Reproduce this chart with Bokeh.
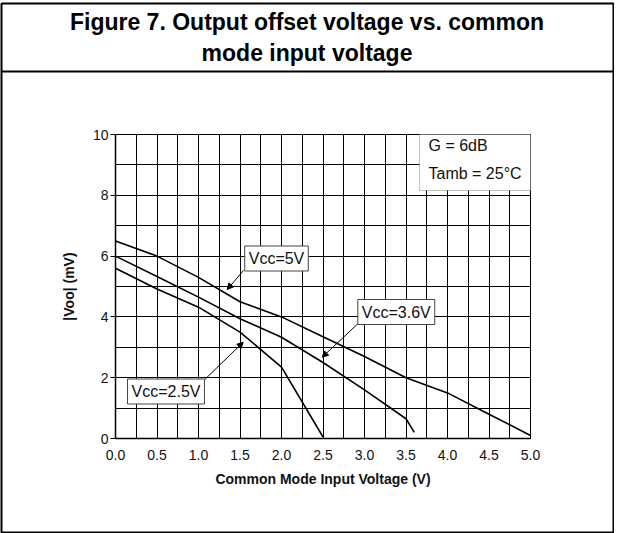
from bokeh.plotting import figure
from bokeh.models import (Range1d, SingleIntervalTicker, NumeralTickFormatter, Label,
                          Arrow, NormalHead, BoxAnnotation, Span, LinearAxis)
from bokeh.embed import file_html
from bokeh.resources import INLINE

# ---- data ----
x_5v = [0.0, 0.5, 1.0, 1.5, 2.0, 2.5, 3.0, 3.5, 4.0, 4.5, 5.0]
y_5v = [6.5, 6.0, 5.3, 4.5, 4.0, 3.35, 2.7, 2.0, 1.5, 0.8, 0.1]

x_36v = [0.0, 0.5, 1.0, 1.5, 2.0, 2.5, 3.0, 3.5, 3.6]
y_36v = [6.0, 5.33, 4.65, 3.94, 3.33, 2.5, 1.6, 0.65, 0.2]

x_25v = [0.0, 0.5, 1.0, 1.5, 2.0, 2.5]
y_25v = [5.6, 4.92, 4.32, 3.5, 2.35, 0.05]

x_limits = (0.0, 5.0)
y_limits = (0.0, 10.0)

title_lines = ["Figure 7. Output offset voltage vs. common", "mode input voltage"]
x_label = "Common Mode Input Voltage (V)"
y_label = "|Voo| (mV)"
cond_lines = ["G = 6dB", "Tamb = 25°C"]

FONT = "Liberation Sans"

# ---- layout (pixels on the canvas) ----
W, H = 614, 533
FL, FR, FT, FB = 1, 613, 3, 532          # outer box = bokeh frame
PX0, PX1, PY10, PY0 = 115, 530, 134, 438  # plot area
X0, X1 = x_limits
Y0, Y1 = y_limits
sx = (PX1 - PX0) / (X1 - X0)
sy = (PY0 - PY10) / (Y1 - Y0)

def dx(px):
    return X0 + (px - PX0) / sx

def dy(py):
    return Y0 + (PY0 - py) / sy

p = figure(width=W, height=H, output_backend="svg", toolbar_location=None,
           x_range=Range1d(dx(FL), dx(FR)), y_range=Range1d(dy(FB), dy(FT)),
           x_axis_type=None, y_axis_type=None,
           min_border_left=FL, min_border_right=W - FR,
           min_border_top=FT, min_border_bottom=H - FB)
p.background_fill_color = "white"
p.border_fill_color = "white"
p.outline_line_color = "black"
p.outline_line_width = 2

# axes fixed at the plot-area origin; their long inward ticks form the grid
xaxis = LinearAxis(fixed_location=Y0, bounds=x_limits,
                   ticker=SingleIntervalTicker(interval=0.5, num_minor_ticks=2),
                   formatter=NumeralTickFormatter(format="0.0"))
yaxis = LinearAxis(fixed_location=X0, bounds=y_limits,
                   ticker=SingleIntervalTicker(interval=2, num_minor_ticks=2))
plot_w = sx * (X1 - X0)
plot_h = sy * (Y1 - Y0)
for ax in (xaxis, yaxis):
    ax.axis_line_color = "black"
    ax.axis_line_width = 1.5
    ax.major_tick_line_color = "black"
    ax.major_tick_line_width = 1
    ax.minor_tick_line_color = "black"
    ax.minor_tick_line_width = 1
    ax.minor_tick_out = 0
    ax.major_label_text_font = FONT
    ax.major_label_text_font_size = "14px"
    ax.major_label_text_color = "#111111"
    ax.axis_label_text_font = FONT
    ax.axis_label_text_font_size = "14px"
    ax.axis_label_text_font_style = "bold"
    ax.axis_label_text_color = "#111111"
xaxis.major_tick_in = int(round(plot_h))
xaxis.minor_tick_in = int(round(plot_h))
xaxis.major_tick_out = 0
xaxis.major_label_standoff = 11
xaxis.axis_label = x_label
xaxis.axis_label_standoff = 8
yaxis.major_tick_in = int(round(plot_w))
yaxis.minor_tick_in = int(round(plot_w))
yaxis.major_tick_out = 5
yaxis.major_label_standoff = 2
yaxis.axis_label = y_label
yaxis.axis_label_standoff = 13
p.add_layout(xaxis, "below")
p.add_layout(yaxis, "left")

# curves
for xs, ys in ((x_5v, y_5v), (x_36v, y_36v), (x_25v, y_25v)):
    p.line(xs, ys, line_color="black", line_width=1.6)

# conditions box
p.add_layout(BoxAnnotation(left=dx(419), right=X1, bottom=dy(190), top=Y1,
                           fill_color="white", fill_alpha=1.0,
                           line_color="#333333", line_width=1))
for i, t in enumerate(cond_lines):
    p.add_layout(Label(x=dx(428), y=dy(145 + 28 * i), text=t, text_align="left",
                       text_baseline="middle", text_font=FONT,
                       text_font_size="16px", text_color="#111111"))

# curve labels with arrows
callouts = [
    ("Vcc=5V", (276, 258), (243, 270), (226.7, 289)),
    ("Vcc=2.5V", (165.5, 391), (204.3, 379), (242.7, 341.7)),
    ("Vcc=3.6V", (395.8, 311.5), (357.3, 323.3), (321.7, 356.7)),
]
for text, c, tail, head in callouts:
    p.add_layout(Arrow(x_start=dx(tail[0]), y_start=dy(tail[1]),
                       x_end=dx(head[0]), y_end=dy(head[1]),
                       line_color="black", line_width=1,
                       end=NormalHead(size=6, fill_color="black", line_color="black")))
for text, c, tail, head in callouts:
    p.add_layout(Label(x=dx(c[0]), y=dy(c[1]), text=text, text_align="center",
                       text_baseline="middle", text_font=FONT, text_font_size="16px",
                       text_color="#111111", background_fill_color="white",
                       border_line_color="#444444", border_line_width=1, padding=4))

# title panel
p.add_layout(Span(location=dy(71), dimension="width", line_color="black", line_width=2))
for i, t in enumerate(title_lines):
    p.add_layout(Label(x=dx(306.5), y=dy(21 + 31 * i), text=t, text_align="center",
                       text_baseline="middle", text_font=FONT, text_font_size="23px",
                       text_font_style="bold", text_color="black"))

open("out.html", "w").write(file_html(p, INLINE))
